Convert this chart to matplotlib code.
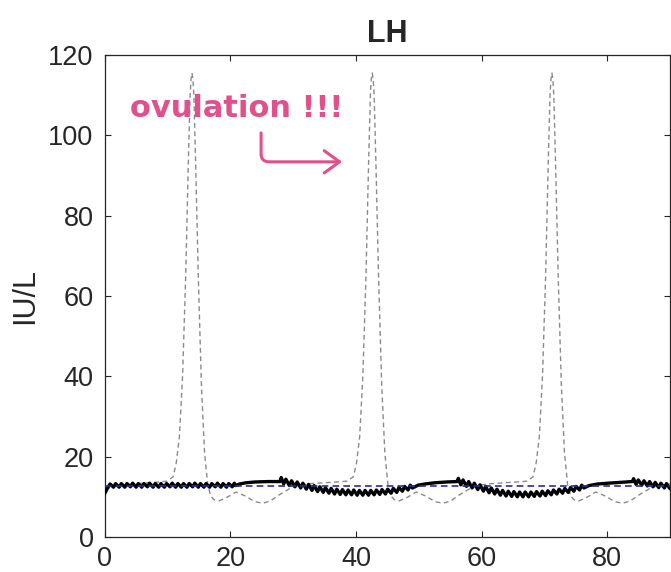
import numpy as np
import matplotlib.pyplot as plt

plt.rcParams['font.family'] = ['Liberation Sans', 'DejaVu Sans']

# dashed grey curve (model LH with surges)
grey_day = [0, 2, 4, 6, 8, 9.9,
            10.9, 11.4, 11.9, 12.4, 12.9, 13.3, 13.6, 13.75, 13.9, 14.05, 14.2, 14.5, 14.9, 15.4,
            15.9, 16.4, 16.9, 17.4, 18.2, 19.4, 20.9, 22.4, 23.9, 25.2, 26.4, 27.9, 29.4, 30.9,
            32.9, 34.9, 36.9, 38.6,
            39.6, 40.1, 40.6, 41.1, 41.6, 42.0, 42.3, 42.45, 42.6, 42.75, 42.9, 43.2, 43.6, 44.1,
            44.6, 45.1, 45.6, 46.1, 46.9, 48.1, 49.6, 51.1, 52.6, 53.9, 55.1, 56.6, 58.1, 59.6,
            61.6, 63.6, 65.6, 67.3,
            68.2, 68.7, 69.2, 69.7, 70.2, 70.6, 70.9, 71.05, 71.2, 71.35, 71.5, 71.8, 72.2, 72.7,
            73.2, 73.7, 74.2, 74.7, 75.5, 76.7, 78.2, 79.7, 81.2, 82.5, 83.7, 85.2, 86.7, 88.2, 90.0]
grey_val = [12.0, 12.7, 13.1, 13.4, 13.6, 13.9,
            15.0, 18.5, 25, 40, 65, 92, 110, 114, 115.5, 114, 110, 92, 65, 38,
            21, 13, 10.2, 9.3, 9.0, 9.8, 11.2, 10.2, 8.8, 8.4, 9.0, 10.6, 12.0, 12.9,
            13.3, 13.5, 13.7, 13.9,
            15.0, 18.5, 25, 40, 65, 92, 110, 114, 115.5, 114, 110, 92, 65, 38,
            21, 13, 10.2, 9.3, 9.0, 9.8, 11.2, 10.2, 8.8, 8.4, 9.0, 10.6, 12.0, 12.9,
            13.3, 13.5, 13.7, 13.9,
            15.0, 18.5, 25, 40, 65, 92, 110, 114, 115.5, 114, 110, 92, 65, 38,
            21, 13, 10.2, 9.3, 9.0, 9.8, 11.2, 10.2, 8.8, 8.4, 9.0, 10.6, 12.0, 12.9, 13.2]

# black curve: smooth stretches + pulse trains (trough values)
smooth_day = [[0.0],
              [20.8, 21.5, 22.5, 24.0, 26.0, 27.9, 28.1],
              [49.0, 49.9, 51.0, 52.6, 54.5, 56.1, 56.3],
              [76.3, 77.1, 78.5, 80.2, 82.2, 84.0, 84.2]]
smooth_val = [[10.8],
              [12.8, 13.2, 13.5, 13.7, 13.8, 13.8, 14.8],
              [12.2, 12.9, 13.2, 13.5, 13.7, 13.8, 14.6],
              [12.2, 12.8, 13.2, 13.4, 13.6, 13.8, 14.5]]
pulse_start = [0.5, 28.5, 56.7, 84.6]
pulse_amp = [0.9, 1.2, 1.2, 1.1]
pulse_lo = [
    [12.3, 12.4, 12.4, 12.4, 12.5, 12.4, 12.4, 12.5, 12.4, 12.4, 12.4, 12.5,
     12.4, 12.4, 12.4, 12.5, 12.4, 12.4, 12.4, 12.5, 12.4, 12.4, 12.5],
    [13.2, 12.8, 12.5, 12.2, 11.9, 11.6, 11.3, 11.1, 10.9, 10.7, 10.6, 10.5,
     10.5, 10.4, 10.4, 10.4, 10.5, 10.6, 10.7, 10.9, 11.1, 11.4, 11.7],
    [13.0, 12.6, 12.2, 11.8, 11.4, 11.0, 10.7, 10.4, 10.2, 10.1, 10.0, 10.0,
     10.0, 10.1, 10.2, 10.3, 10.5, 10.7, 10.9, 11.1, 11.4, 11.7],
    [13.1, 12.9, 12.7, 12.5, 12.3, 12.2, 12.0],
]
pulse_period = 0.9
baseline = 12.7

bx, by = [], []
for sd, sv, t0, amp, lo in zip(smooth_day, smooth_val, pulse_start, pulse_amp, pulse_lo):
    bx += sd
    by += sv
    for i, v in enumerate(lo):
        t = t0 + i * pulse_period
        bx += [t, t + 0.35]
        by += [v, v + amp]

fig = plt.figure(figsize=(6.71, 5.72), dpi=100)
ax = fig.add_axes([0.156, 0.0612, 0.8425, 0.8427])

ax.plot(grey_day, grey_val, color='#8a8a8a', lw=1.0, dashes=(3.5, 2.5), zorder=2)
ax.plot(bx, by, color='black', lw=2.4, zorder=3)
ax.axhline(baseline, color='#2a2aa8', lw=1.2, dashes=(4, 2.5), zorder=4)

ax.set_xlim(0, 90)
ax.set_ylim(0, 120)
ax.set_xticks([0, 20, 40, 60, 80])
ax.set_yticks([0, 20, 40, 60, 80, 100, 120])
ax.tick_params(direction='in', length=4.5, width=0.8, colors='#262626',
               labelsize=19.5, pad=8, top=True, right=True)
ax.tick_params(axis='x', pad=6.5)
for s in ax.spines.values():
    s.set_color('#262626')
    s.set_linewidth(0.9)

ax.set_title('LH', fontsize=22, fontweight='bold', color='#262626', pad=9)
ax.set_ylabel('IU/L', fontsize=22, color='#262626', labelpad=6)

pink = '#E2508C'
ax.text(4.0, 104.6, 'ovulation !!!', color=pink, fontsize=22, fontweight='bold',
        family='DejaVu Sans', ha='left', va='baseline')
ax.annotate('', xy=(37.8, 93.4), xytext=(24.9, 100.6),
            arrowprops=dict(arrowstyle='->,head_length=0.55,head_width=0.4',
                            connectionstyle='angle,angleA=90,angleB=0,rad=8',
                            color=pink, lw=2.2, mutation_scale=20,
                            shrinkA=0, shrinkB=0))

fig.savefig('out.png', dpi=100)
